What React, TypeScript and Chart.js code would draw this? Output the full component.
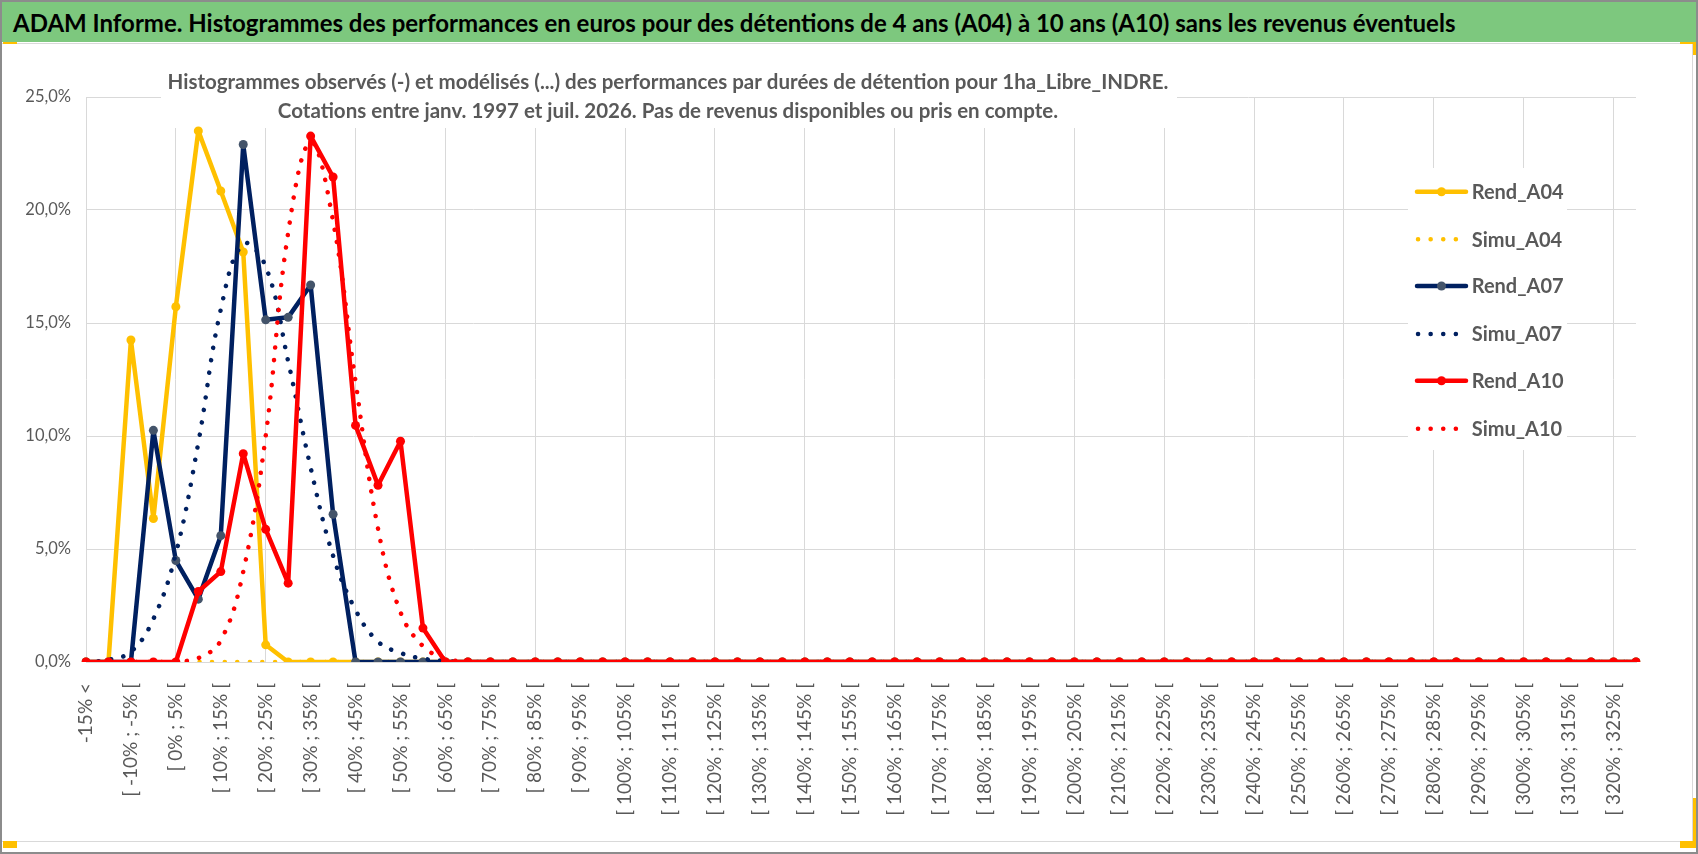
import React, { useEffect, useRef } from 'react';
import { Chart, registerables } from 'chart.js';

Chart.register(...registerables);

const TITLE = 'ADAM Informe. Histogrammes des performances en euros pour des détentions de 4 ans (A04) à 10 ans (A10) sans les revenus éventuels';
const SUBTITLE_1 = 'Histogrammes observés (-) et modélisés (...) des performances par durées de détention pour 1ha_Libre_INDRE.';
const SUBTITLE_2 = 'Cotations entre janv. 1997 et juil. 2026. Pas de revenus disponibles ou pris en compte.';

const categories = [
  '-15% <', '[ -15% ; -10% [', '[ -10% ; -5% [', '[ -5% ; 0% [', '[ 0% ; 5% [', '[ 5% ; 10% [', '[ 10% ; 15% [', '[ 15% ; 20% [', '[ 20% ; 25% [', '[ 25% ; 30% [',
  '[ 30% ; 35% [', '[ 35% ; 40% [', '[ 40% ; 45% [', '[ 45% ; 50% [', '[ 50% ; 55% [', '[ 55% ; 60% [', '[ 60% ; 65% [', '[ 65% ; 70% [', '[ 70% ; 75% [', '[ 75% ; 80% [',
  '[ 80% ; 85% [', '[ 85% ; 90% [', '[ 90% ; 95% [', '[ 95% ; 100% [', '[ 100% ; 105% [', '[ 105% ; 110% [', '[ 110% ; 115% [', '[ 115% ; 120% [', '[ 120% ; 125% [', '[ 125% ; 130% [',
  '[ 130% ; 135% [', '[ 135% ; 140% [', '[ 140% ; 145% [', '[ 145% ; 150% [', '[ 150% ; 155% [', '[ 155% ; 160% [', '[ 160% ; 165% [', '[ 165% ; 170% [', '[ 170% ; 175% [', '[ 175% ; 180% [',
  '[ 180% ; 185% [', '[ 185% ; 190% [', '[ 190% ; 195% [', '[ 195% ; 200% [', '[ 200% ; 205% [', '[ 205% ; 210% [', '[ 210% ; 215% [', '[ 215% ; 220% [', '[ 220% ; 225% [', '[ 225% ; 230% [',
  '[ 230% ; 235% [', '[ 235% ; 240% [', '[ 240% ; 245% [', '[ 245% ; 250% [', '[ 250% ; 255% [', '[ 255% ; 260% [', '[ 260% ; 265% [', '[ 265% ; 270% [', '[ 270% ; 275% [', '[ 275% ; 280% [',
  '[ 280% ; 285% [', '[ 285% ; 290% [', '[ 290% ; 295% [', '[ 295% ; 300% [', '[ 300% ; 305% [', '[ 305% ; 310% [', '[ 310% ; 315% [', '[ 315% ; 320% [', '[ 320% ; 325% [', '>= 325%',
];

// values in %
const rendA04 = [
  0, 0, 14.25, 6.35, 15.72, 23.5, 20.84, 18.14, 0.76, 0,
  0, 0, 0, 0, 0, 0, 0, 0, 0, 0,
  0, 0, 0, 0, 0, 0, 0, 0, 0, 0,
  0, 0, 0, 0, 0, 0, 0, 0, 0, 0,
  0, 0, 0, 0, 0, 0, 0, 0, 0, 0,
  0, 0, 0, 0, 0, 0, 0, 0, 0, 0,
  0, 0, 0, 0, 0, 0, 0, 0, 0, 0,
];

const simuA04 = [
  0, 0, 0, 0, 0, 0, 0, 0, 0, 0,
  0, 0, 0, 0, 0, 0, 0, 0, 0, 0,
  0, 0, 0, 0, 0, 0, 0, 0, 0, 0,
  0, 0, 0, 0, 0, 0, 0, 0, 0, 0,
  0, 0, 0, 0, 0, 0, 0, 0, 0, 0,
  0, 0, 0, 0, 0, 0, 0, 0, 0, 0,
  0, 0, 0, 0, 0, 0, 0, 0, 0, 0,
];

const rendA07 = [
  0, 0, 0, 10.25, 4.49, 2.78, 5.59, 22.9, 15.14, 15.25,
  16.68, 6.54, 0, 0, 0, 0, 0, 0, 0, 0,
  0, 0, 0, 0, 0, 0, 0, 0, 0, 0,
  0, 0, 0, 0, 0, 0, 0, 0, 0, 0,
  0, 0, 0, 0, 0, 0, 0, 0, 0, 0,
  0, 0, 0, 0, 0, 0, 0, 0, 0, 0,
  0, 0, 0, 0, 0, 0, 0, 0, 0, 0,
];

const simuA07 = [
  0, 0.1, 0.45, 1.9, 4.8, 9.7, 15.6, 18.5, 17.5, 13.3,
  8.6, 4.7, 2.3, 0.9, 0.4, 0.15, 0.05, 0, 0, 0,
  0, 0, 0, 0, 0, 0, 0, 0, 0, 0,
  0, 0, 0, 0, 0, 0, 0, 0, 0, 0,
  0, 0, 0, 0, 0, 0, 0, 0, 0, 0,
  0, 0, 0, 0, 0, 0, 0, 0, 0, 0,
  0, 0, 0, 0, 0, 0, 0, 0, 0, 0,
];

const rendA10 = [
  0, 0, 0, 0, 0, 3.12, 4.0, 9.22, 5.87, 3.49,
  23.27, 21.46, 10.47, 7.82, 9.77, 1.5, 0, 0, 0, 0,
  0, 0, 0, 0, 0, 0, 0, 0, 0, 0,
  0, 0, 0, 0, 0, 0, 0, 0, 0, 0,
  0, 0, 0, 0, 0, 0, 0, 0, 0, 0,
  0, 0, 0, 0, 0, 0, 0, 0, 0, 0,
  0, 0, 0, 0, 0, 0, 0, 0, 0, 0,
];

const simuA10 = [
  0, 0, 0, 0, 0.03, 0.17, 0.95, 4.0, 10.0, 19.0,
  23.0, 19.5, 12.4, 5.9, 2.2, 0.7, 0.15, 0.03, 0, 0,
  0, 0, 0, 0, 0, 0, 0, 0, 0, 0,
  0, 0, 0, 0, 0, 0, 0, 0, 0, 0,
  0, 0, 0, 0, 0, 0, 0, 0, 0, 0,
  0, 0, 0, 0, 0, 0, 0, 0, 0, 0,
  0, 0, 0, 0, 0, 0, 0, 0, 0, 0,
];

const yTicks = [0, 5, 10, 15, 20, 25];

const YELLOW = '#FFC000';
const NAVY = '#002060';
const NAVY_MARKER = '#44546A';
const RED = '#FF0000';
const GRID = '#D9D9D9';
const TEXT = '#595959';
const FONT = 'Lato, "Open Sans", sans-serif';

const DOT_DASH = [0.1, 12.5];

const seriesDefs = [
  { label: 'Rend_A04', data: rendA04, color: YELLOW, marker: YELLOW, dotted: false },
  { label: 'Simu_A04', data: simuA04, color: YELLOW, marker: YELLOW, dotted: true },
  { label: 'Rend_A07', data: rendA07, color: NAVY, marker: NAVY_MARKER, dotted: false },
  { label: 'Simu_A07', data: simuA07, color: NAVY, marker: NAVY, dotted: true },
  { label: 'Rend_A10', data: rendA10, color: RED, marker: RED, dotted: false },
  { label: 'Simu_A10', data: simuA10, color: RED, marker: RED, dotted: true },
];

const overlayPlugin = {
  id: 'overlayTexts',
  beforeDatasetsDraw(chart: any) {
    const ctx = chart.ctx as CanvasRenderingContext2D;
    ctx.save();
    // subtitle box
    ctx.fillStyle = '#FFFFFF';
    ctx.fillRect(158, 17, 1016, 68);
    ctx.fillStyle = TEXT;
    ctx.font = `bold 20.5px ${FONT}`;
    ctx.textAlign = 'center';
    ctx.textBaseline = 'middle';
    ctx.fillText(SUBTITLE_1, 665, 39);
    ctx.fillText(SUBTITLE_2, 665, 68.5);
    // legend box
    ctx.fillStyle = '#FFFFFF';
    ctx.fillRect(1405, 125, 159, 282);
    ctx.restore();
  },
  afterDraw(chart: any) {
    const ctx = chart.ctx as CanvasRenderingContext2D;
    ctx.save();
    const ys = [148.7, 196.3, 243, 291, 337.7, 385.7];
    seriesDefs.forEach((s, i) => {
      const y = ys[i];
      ctx.strokeStyle = s.color;
      ctx.lineWidth = 4.5;
      ctx.lineCap = 'round';
      if (s.dotted) {
        ctx.setLineDash(DOT_DASH);
        ctx.beginPath();
        ctx.moveTo(1415, y);
        ctx.lineTo(1464, y);
        ctx.stroke();
        ctx.setLineDash([]);
      } else {
        ctx.beginPath();
        ctx.moveTo(1414, y);
        ctx.lineTo(1463, y);
        ctx.stroke();
        ctx.fillStyle = s.marker;
        ctx.beginPath();
        ctx.arc(1438.5, y, 4.5, 0, Math.PI * 2);
        ctx.fill();
      }
      ctx.fillStyle = TEXT;
      ctx.font = `bold 20px ${FONT}`;
      ctx.textAlign = 'left';
      ctx.textBaseline = 'middle';
      ctx.fillText(s.label, 1468.7, y + 1);
    });
    ctx.restore();
  },
};

export default function App() {
  const canvasRef = useRef<HTMLCanvasElement | null>(null);

  useEffect(() => {
    if (!canvasRef.current) return;
    const datasets = seriesDefs.map((s, i) => ({
      label: s.label,
      data: s.data,
      borderColor: s.color,
      backgroundColor: s.color,
      borderWidth: 4.5,
      borderDash: s.dotted ? DOT_DASH : [],
      borderCapStyle: 'round' as const,
      borderJoinStyle: 'round' as const,
      tension: s.dotted ? 0.4 : 0,
      pointRadius: s.dotted ? 0 : 4.5,
      pointHoverRadius: s.dotted ? 0 : 4.5,
      pointBackgroundColor: s.marker,
      pointBorderWidth: 0,
      fill: false,
      order: seriesDefs.length - i,
    }));

    const chart = new Chart(canvasRef.current, {
      type: 'line',
      data: { labels: categories, datasets },
      options: {
        animation: false,
        responsive: false,
        devicePixelRatio: window.devicePixelRatio || 1,
        layout: { padding: { left: 0, top: 54, right: 56, bottom: 0 } },
        plugins: {
          legend: { display: false },
          tooltip: { enabled: false },
          title: { display: false },
        },
        scales: {
          x: {
            type: 'category',
            offset: false,
            grid: {
              color: (ctx: any) => (ctx.index % 4 === 0 ? GRID : 'rgba(0,0,0,0)'),
              lineWidth: 1,
              drawTicks: false,
            },
            border: { display: true, color: GRID },
            ticks: {
              autoSkip: false,
              minRotation: 90,
              maxRotation: 90,
              padding: 21,
              color: TEXT,
              font: { family: FONT, size: 19 },
              callback: (_v: any, index: number) => (index % 2 === 0 ? categories[index] : ''),
            },
            afterFit: (scale: any) => {
              scale.height = 180;
            },
          },
          y: {
            min: yTicks[0],
            max: yTicks[yTicks.length - 1],
            grid: { color: GRID, lineWidth: 1, drawTicks: false },
            border: { display: false },
            afterBuildTicks: (scale: any) => {
              scale.ticks = yTicks.map((v) => ({ value: v }));
            },
            ticks: {
              padding: 15,
              color: TEXT,
              font: { family: FONT, size: 16.5 },
              callback: (v: any) => `${Number(v).toFixed(1).replace('.', ',')}%`,
            },
            afterFit: (scale: any) => {
              scale.width = 83;
            },
          },
        },
      },
      plugins: [overlayPlugin],
    });
    return () => chart.destroy();
  }, []);

  return (
    <div
      style={{
        position: 'absolute',
        left: 0,
        top: 0,
        width: 1698,
        height: 854,
        boxSizing: 'border-box',
        border: '2px solid #8C8C8C',
        background: '#FFFFFF',
        overflow: 'hidden',
        fontFamily: FONT,
      }}
    >
      <div
        style={{
          position: 'absolute',
          left: 0,
          top: 0,
          width: 1694,
          height: 40,
          background: '#7DC87E',
          display: 'flex',
          alignItems: 'center',
        }}
      >
        <span style={{ marginLeft: 11, fontWeight: 700, fontSize: 24, color: '#000000', whiteSpace: 'nowrap' }}>
          {TITLE}
        </span>
      </div>
      <div
        style={{
          position: 'absolute',
          left: 0,
          top: 41,
          width: 1691,
          height: 799,
          boxSizing: 'border-box',
          borderTop: `1px solid ${GRID}`,
          borderRight: `1px solid ${GRID}`,
          borderBottom: `1px solid ${GRID}`,
        }}
      />
      <canvas
        ref={canvasRef}
        width={1689}
        height={799}
        style={{ position: 'absolute', left: 1, top: 41, width: 1689, height: 799 }}
      />
      <div style={{ position: 'absolute', left: 1, top: 40, width: 14, height: 2, background: YELLOW }} />
      <div style={{ position: 'absolute', left: 1, top: 839, width: 14, height: 7, background: YELLOW }} />
      <div style={{ position: 'absolute', left: 1678, top: 40, width: 16, height: 2, background: YELLOW }} />
      <div style={{ position: 'absolute', left: 1691, top: 40, width: 3, height: 13, background: YELLOW }} />
      <div style={{ position: 'absolute', left: 1691, top: 796, width: 4, height: 50, background: YELLOW }} />
      <div style={{ position: 'absolute', left: 1678, top: 839, width: 17, height: 7, background: YELLOW }} />
    </div>
  );
}
